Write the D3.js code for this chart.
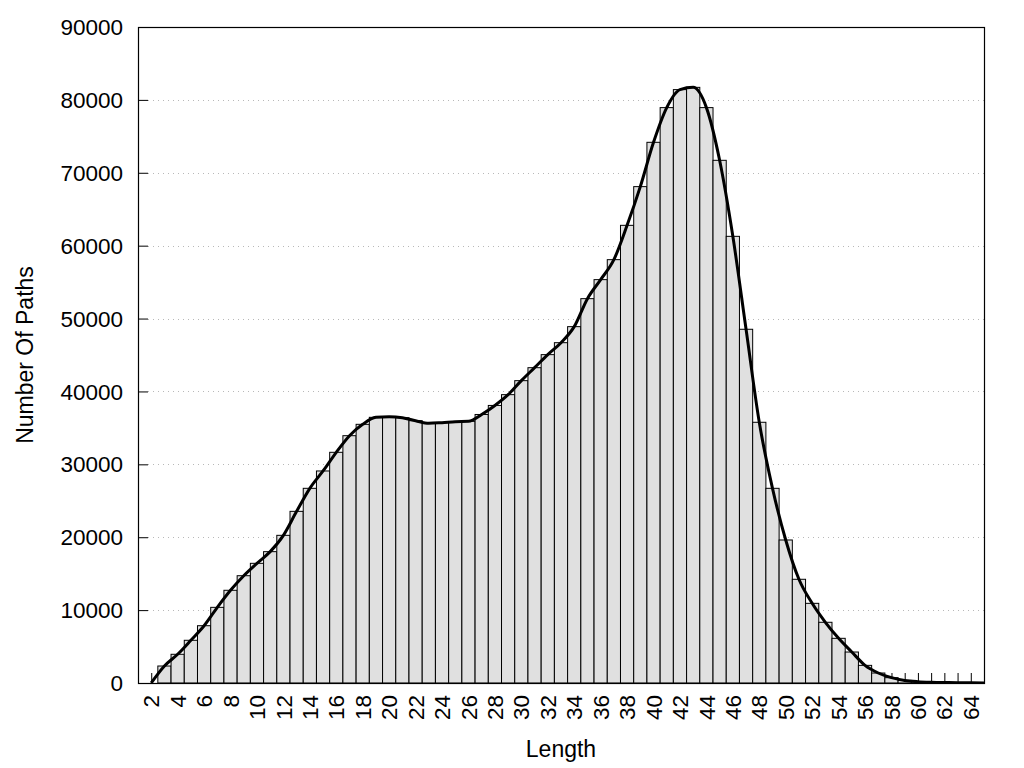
<!DOCTYPE html>
<html lang="en">

<head>
    <meta charset="UTF-8">
    <title>Path length histogram</title>
    <style>
        body { margin: 0; background: #fff; }
        svg text { font-family: "Liberation Sans", Arial, sans-serif; fill: #000; }
    </style>
</head>

<body>
    <svg id="histChart"></svg>
    <script src="https://cdn.jsdelivr.net/npm/d3@7/dist/d3.min.js"></script>
    <script type="text/javascript">
        // path lengths (x) and number of paths for each length
        const lengths = d3.range(2, 66);
        const pathCounts = [
            0, 2330, 3940, 5860, 7860, 10380, 12720, 14720, 16420, 18020,
            20260, 23550, 26710, 29090, 31650, 33930, 35490, 36450, 36540, 36400,
            35990, 35630, 35720, 35850, 35900, 36840, 38080, 39560, 41480, 43260,
            45050, 46690, 48890, 52730, 55340, 58080, 62790, 68100, 74180, 78940,
            81410, 81720, 78940, 71710, 61280, 48530, 35770, 26710, 19620, 14230,
            10930, 8330, 6130, 4250, 2420, 1370, 730, 350, 180, 100,
            60, 40, 20, 10
        ];
        const yTicks = [0, 10000, 20000, 30000, 40000, 50000, 60000, 70000, 80000, 90000];
        const xTickLabels = d3.range(2, 65, 2);

        window.onload = function () {
            drawHistogram();
        }

        function drawHistogram() {
            const W = 1024, H = 768;
            const margin = { top: 27, right: 40, bottom: 85, left: 138 };
            const width = W - margin.left - margin.right;
            const height = H - margin.top - margin.bottom;

            const data = lengths.map(function (l, i) {
                return { len: l, count: pathCounts[i] };
            });

            const svg = d3.select('#histChart').attr('width', W).attr('height', H);

            const x = d3.scaleLinear().domain([1, 65]).range([0, width]);
            const y = d3.scaleLinear().domain([0, 90000]).range([height, 0]);
            const unit = x(2) - x(1); // one bar = one length unit

            svg.append('defs').append('clipPath').attr('id', 'plotClip')
                .append('rect').attr('width', width).attr('height', height);

            let g = svg.append('g').attr('transform', 'translate(' + margin.left + ',' + margin.top + ')');

            // dotted grid on y
            g.append('g').attr('class', 'grid')
                .selectAll('line')
                .data(yTicks.slice(1, -1))
                .enter().append('line')
                .attr('x1', 10).attr('x2', width)
                .attr('y1', function (d) { return Math.round(y(d)) + 0.5; })
                .attr('y2', function (d) { return Math.round(y(d)) + 0.5; })
                .attr('stroke', '#b8b8b8')
                .attr('stroke-width', 1)
                .attr('stroke-dasharray', '1,4');

            // x ticks (inward), drawn under the bars
            g.append('g').attr('class', 'axis axis--x')
                .attr('transform', 'translate(0,' + height + ')')
                .call(d3.axisBottom(x).tickValues(d3.range(2, 65)).tickSize(-10).tickFormat(''))
                .call(function (a) { a.select('.domain').remove(); })
                .selectAll('line').attr('stroke', '#000');

            // y ticks (inward)
            g.append('g').attr('class', 'axis axis--y')
                .call(d3.axisLeft(y).tickValues(yTicks).tickSize(-10).tickFormat(''))
                .call(function (a) { a.select('.domain').remove(); })
                .selectAll('line').attr('stroke', '#000');

            const plot = g.append('g').attr('clip-path', 'url(#plotClip)');

            // bars
            plot.append('g').attr('class', 'bars')
                .selectAll('rect')
                .data(data)
                .enter().append('rect')
                .attr('x', function (d) { return x(d.len) - unit / 2; })
                .attr('y', function (d) { return y(d.count); })
                .attr('width', unit)
                .attr('height', function (d) { return height - y(d.count); })
                .attr('fill', '#e0e0e0')
                .attr('stroke', '#000')
                .attr('stroke-width', 1);

            // smooth line over the bars
            const line = d3.line()
                .x(function (d) { return x(d.len); })
                .y(function (d) { return y(d.count); })
                .curve(d3.curveMonotoneX);

            plot.append('path')
                .datum(data)
                .attr('d', line)
                .attr('fill', 'none')
                .attr('stroke', '#000')
                .attr('stroke-width', 3)
                .attr('stroke-linejoin', 'round');

            // border
            g.append('rect')
                .attr('x', 0.5).attr('y', 0.5)
                .attr('width', width).attr('height', height)
                .attr('fill', 'none')
                .attr('stroke', '#000')
                .attr('stroke-width', 1.2);

            // y tick labels
            g.append('g').attr('class', 'ylabels')
                .selectAll('text')
                .data(yTicks)
                .enter().append('text')
                .attr('x', -15)
                .attr('y', function (d) { return y(d); })
                .attr('dy', '0.36em')
                .attr('text-anchor', 'end')
                .attr('font-size', '22.5px')
                .text(function (d) { return d; });

            // x tick labels, rotated
            g.append('g').attr('class', 'xlabels')
                .selectAll('text')
                .data(xTickLabels)
                .enter().append('text')
                .attr('transform', function (d) {
                    return 'translate(' + x(d) + ',' + (height + 12) + ') rotate(-90)';
                })
                .attr('dy', '0.36em')
                .attr('text-anchor', 'end')
                .attr('font-size', '22.5px')
                .text(function (d) { return d; });

            // axis titles
            svg.append('text')
                .attr('x', margin.left + width / 2)
                .attr('y', 757)
                .attr('text-anchor', 'middle')
                .attr('font-size', '23px')
                .text('Length');

            svg.append('text')
                .attr('transform', 'translate(33,' + (margin.top + height / 2) + ') rotate(-90)')
                .attr('text-anchor', 'middle')
                .attr('font-size', '23px')
                .text('Number Of Paths');
        }
    </script>
</body>

</html>
